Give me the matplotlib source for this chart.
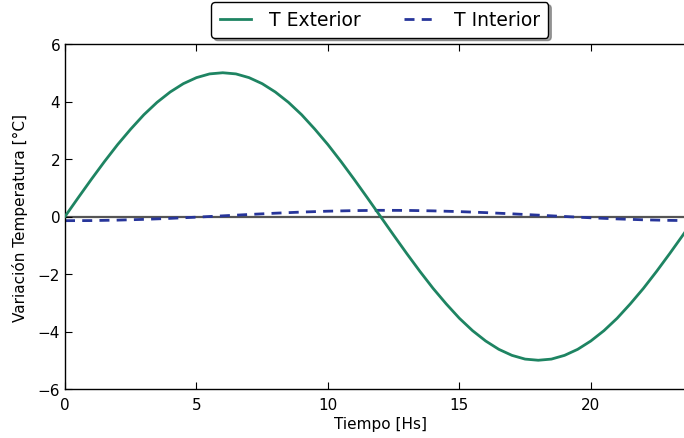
import matplotlib
matplotlib.use("Agg")
import matplotlib.pyplot as plt

# Time [h]
t_hours = [0, 1, 2, 3, 4, 5, 6, 7, 8, 9, 10, 11, 12, 13, 14, 15, 16, 17, 18,
           19, 20, 21, 22, 23, 24]
t_half = [0, 0.5, 1, 1.5, 2, 2.5, 3, 3.5, 4, 4.5, 5, 5.5, 6, 6.5, 7, 7.5, 8,
          8.5, 9, 9.5, 10, 10.5, 11, 11.5, 12, 12.5, 13, 13.5, 14, 14.5, 15,
          15.5, 16, 16.5, 17, 17.5, 18, 18.5, 19, 19.5, 20, 20.5, 21, 21.5,
          22, 22.5, 23, 23.5, 24]
t_exterior = [0.0, 0.65, 1.29, 1.91, 2.5, 3.04, 3.54, 3.97, 4.33, 4.62, 4.83,
              4.96, 5.0, 4.96, 4.83, 4.62, 4.33, 3.97, 3.54, 3.04, 2.5, 1.91,
              1.29, 0.65, 0.0, -0.65, -1.29, -1.91, -2.5, -3.04, -3.54, -3.97,
              -4.33, -4.62, -4.83, -4.96, -5.0, -4.96, -4.83, -4.62, -4.33,
              -3.97, -3.54, -3.04, -2.5, -1.91, -1.29, -0.65, 0.0]
t_interior = [-0.145, -0.142, -0.126, -0.100, -0.065, -0.023, 0.023, 0.070,
              0.115, 0.154, 0.185, 0.205, 0.215, 0.212, 0.196, 0.170, 0.135,
              0.093, 0.047, 0.000, -0.045, -0.084, -0.115, -0.135, -0.145]

x_ticks = [0, 5, 10, 15, 20]
y_ticks = [-6, -4, -2, 0, 2, 4, 6]

plt.rcParams['font.family'] = ['DejaVu Sans']
plt.rcParams['xtick.direction'] = 'in'
plt.rcParams['ytick.direction'] = 'in'
plt.rcParams['xtick.top'] = True
plt.rcParams['ytick.right'] = True

fig = plt.figure(figsize=(6.84, 4.39), dpi=100)
ax = fig.add_axes([65 / 684, 1 - 390 / 439, (696 - 65) / 684, (390 - 45) / 439])

ax.axhline(0, color='#555555', linewidth=1.6, zorder=1)
ax.plot(t_half, t_exterior, color='#1e8462', linewidth=2.0, label='T Exterior', zorder=3)
ax.plot(t_hours, t_interior, color='#27359a', linewidth=2.0, linestyle='--',
        dashes=(3.6, 2.6), label='T Interior', zorder=2)

ax.set_xlim(0, 24)
ax.set_ylim(-6, 6)
ax.set_xticks(x_ticks)
ax.set_yticks(y_ticks)
ax.tick_params(labelsize=11, length=5, width=0.8)
ax.tick_params(axis='x', pad=6)
ax.set_xlabel('Tiempo [Hs]', fontsize=11, labelpad=3)
ax.set_ylabel('Variación Temperatura [°C]', fontsize=11, labelpad=7)
for s in ax.spines.values():
    s.set_linewidth(1.0)

leg = ax.legend(loc='center', bbox_to_anchor=(0.499, 1.07),
                ncol=2, shadow=True, fancybox=True, fontsize=13.5,
                handlelength=1.65, columnspacing=2.3, borderpad=0.45,
                handletextpad=1.0)
leg.get_frame().set_edgecolor('black')
leg.get_frame().set_linewidth(1.0)

fig.savefig('out.png', dpi=100)
